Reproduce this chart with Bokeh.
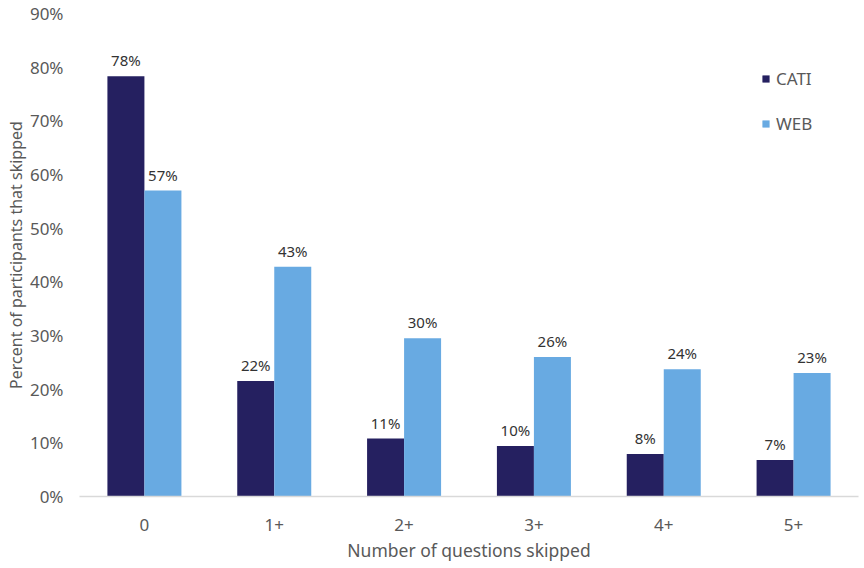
from bokeh.plotting import figure
from bokeh.models import (ColumnDataSource, FactorRange, Range1d, Legend, LegendItem,
                          FixedTicker, PrintfTickFormatter)
from bokeh.transform import dodge
from bokeh.core.properties import value
from bokeh.embed import file_html
from bokeh.resources import INLINE

categories = ["0", "1+", "2+", "3+", "4+", "5+"]
cati = [78.3, 21.5, 10.8, 9.4, 7.9, 6.8]
web = [57.0, 42.8, 29.5, 26.0, 23.7, 23.0]
cati_labels = ["78%", "22%", "11%", "10%", "8%", "7%"]
web_labels = ["57%", "43%", "30%", "26%", "24%", "23%"]
y_ticks = [0, 10, 20, 30, 40, 50, 60, 70, 80, 90]
x_title = "Number of questions skipped"
y_title = "Percent of participants that skipped"

FONT = "Noto Sans"
CATI_COLOR = "#252060"
WEB_COLOR = "#68aae2"
TICK_COLOR = "#595959"

src = ColumnDataSource(dict(cat=categories, cati=cati, web=web,
                            cati_lbl=cati_labels, web_lbl=web_labels))

p = figure(x_range=FactorRange(*categories), y_range=Range1d(y_ticks[0], y_ticks[-1]),
           width=864, height=568, output_backend="svg", toolbar_location=None,
           min_border_left=79, min_border_right=6, min_border_top=13, min_border_bottom=72)
p.outline_line_color = None
p.xgrid.grid_line_color = None
p.ygrid.grid_line_color = None
p.background_fill_color = "white"
p.border_fill_color = "white"

bw = 0.285
r1 = p.vbar(x=dodge("cat", -bw / 2, range=p.x_range), top="cati", width=bw,
            source=src, fill_color=CATI_COLOR, line_color=None)
r2 = p.vbar(x=dodge("cat", bw / 2, range=p.x_range), top="web", width=bw,
            source=src, fill_color=WEB_COLOR, line_color=None)

p.text(x=dodge("cat", -bw / 2, range=p.x_range), y="cati", text="cati_lbl", source=src,
       text_align="center", text_baseline="bottom", y_offset=-6,
       text_font=value(FONT), text_font_size="15px", text_color="#333333")
p.text(x=dodge("cat", bw / 2, range=p.x_range), y="web", text="web_lbl", source=src,
       text_align="center", text_baseline="bottom", y_offset=-6,
       text_font=value(FONT), text_font_size="15px", text_color="#333333")

xa = p.xaxis[0]
xa.axis_line_color = "#d9d9d9"
xa.axis_line_width = 1.5
xa.major_tick_line_color = None
xa.major_tick_out = 0
xa.major_tick_in = 0
xa.minor_tick_line_color = None
xa.major_label_text_font = FONT
xa.major_label_text_font_size = "17px"
xa.major_label_text_color = TICK_COLOR
xa.major_label_standoff = 22
xa.axis_label = x_title
xa.axis_label_text_font = FONT
xa.axis_label_text_font_size = "17.5px"
xa.axis_label_text_font_style = "normal"
xa.axis_label_text_color = TICK_COLOR
xa.axis_label_standoff = 4

ya = p.yaxis[0]
ya.axis_line_color = None
ya.major_tick_line_color = None
ya.major_tick_out = 0
ya.major_tick_in = 0
ya.minor_tick_line_color = None
ya.ticker = FixedTicker(ticks=y_ticks)
ya.formatter = PrintfTickFormatter(format="%d%%")
ya.major_label_text_font = FONT
ya.major_label_text_font_size = "17px"
ya.major_label_text_color = TICK_COLOR
ya.major_label_standoff = 16
ya.axis_label = y_title
ya.axis_label_text_font = FONT
ya.axis_label_text_font_size = "16px"
ya.axis_label_text_font_style = "normal"
ya.axis_label_text_color = TICK_COLOR
ya.axis_label_standoff = 0

legend = Legend(items=[LegendItem(label="CATI", renderers=[r1]),
                       LegendItem(label="WEB", renderers=[r2])],
                location=(682, 361), orientation="vertical",
                glyph_width=9, glyph_height=9, label_height=20, spacing=22,
                padding=0, margin=0, label_standoff=6,
                label_text_font=FONT, label_text_font_size="17px",
                label_text_color=TICK_COLOR,
                border_line_color=None, background_fill_alpha=0)
p.add_layout(legend)

open("out.html", "w").write(file_html(p, INLINE))
